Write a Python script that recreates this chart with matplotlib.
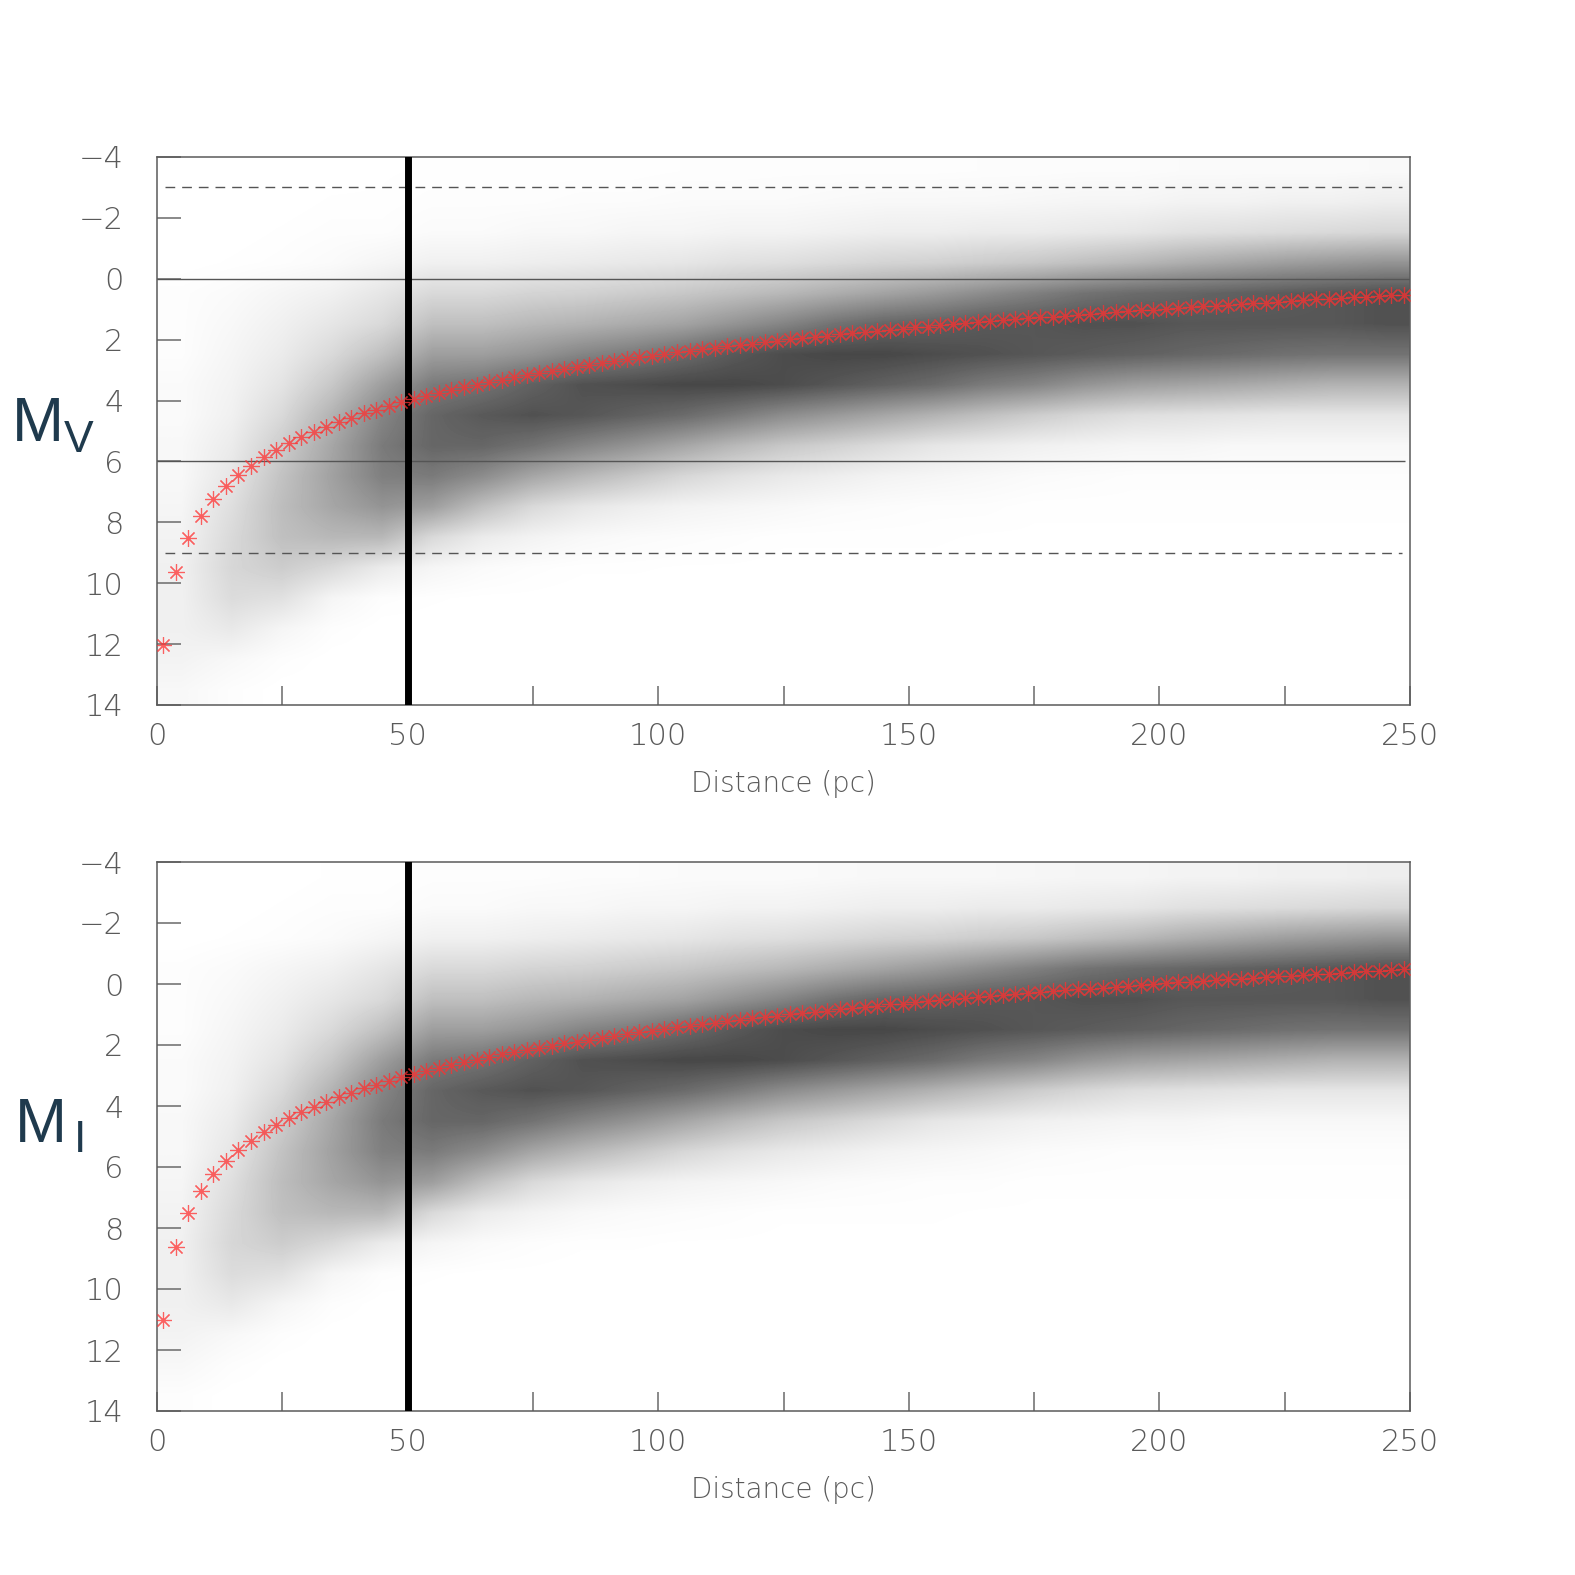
import numpy as np
import matplotlib
matplotlib.use("Agg")
import matplotlib.pyplot as plt
from matplotlib.ticker import MultipleLocator
from matplotlib.colors import LinearSegmentedColormap

# ---------------- data ----------------
# distance bins (pc) and magnitude bins used for the star-density maps
dist_edges = [0, 10, 20, 30, 40, 50, 60, 70, 80, 90, 100, 110, 120, 130, 140, 150,
              160, 170, 180, 190, 200, 210, 220, 230, 240, 250]
mag_edges = [-4, -3, -2, -1, 0, 1, 2, 3, 4, 5, 6, 7, 8, 9, 10, 11, 12, 13, 14]

# relative darkness of the star cloud (rows: magnitude bins from -4 downwards,
# columns: distance bins) -- upper panel, M_V
mv_density = [
    [0, 0, 0, 0, .003, .005, .005, .005, .005, .005, .008, .008, .01, .01, .01, .01, .012, .012, .015, .015, .02, .02, .02, .02, .025],
    [0, 0, 0, .005, .005, .01, .01, .01, .015, .015, .02, .02, .02, .025, .03, .03, .03, .035, .04, .04, .05, .05, .06, .06, .07],
    [0, 0, .005, .01, .01, .02, .02, .03, .03, .04, .04, .05, .05, .06, .07, .07, .08, .08, .09, .10, .12, .13, .14, .15, .16],
    [0, .005, .01, .02, .04, .06, .06, .07, .08, .09, .10, .12, .13, .15, .17, .18, .20, .22, .25, .28, .32, .35, .38, .40, .42],
    [.01, .02, .04, .06, .10, .15, .15, .17, .18, .20, .22, .25, .28, .32, .36, .40, .45, .50, .55, .58, .60, .62, .64, .66, .68],
    [.01, .03, .06, .10, .15, .25, .25, .28, .30, .33, .36, .42, .48, .55, .60, .62, .65, .66, .68, .68, .66, .66, .66, .66, .68],
    [.01, .04, .08, .15, .25, .38, .38, .42, .48, .52, .58, .65, .70, .72, .72, .70, .68, .66, .64, .62, .60, .58, .56, .55, .55],
    [.02, .05, .11, .22, .38, .52, .55, .62, .68, .70, .72, .72, .70, .66, .62, .58, .52, .48, .42, .38, .36, .34, .32, .30, .30],
    [.02, .06, .15, .30, .48, .60, .65, .68, .66, .62, .58, .52, .45, .40, .35, .30, .25, .20, .16, .13, .12, .11, .10, .10, .10],
    [.03, .08, .20, .35, .52, .60, .60, .55, .48, .42, .35, .28, .22, .18, .14, .10, .08, .06, .05, .04, .04, .03, .03, .03, .03],
    [.03, .10, .24, .37, .50, .52, .45, .35, .28, .22, .16, .12, .09, .07, .05, .04, .03, .02, .015, .01, .01, .01, .01, .01, .01],
    [.04, .13, .26, .35, .42, .38, .25, .15, .10, .07, .05, .04, .03, .02, .015, .01, .01, .005, .005, .005, .005, .005, .005, .005, .005],
    [.05, .15, .25, .28, .28, .15, .08, .05, .03, .02, .015, .01, .005, .005, .005, .005, .003, .003, .003, .003, .003, .003, .003, .003, .003],
    [.06, .16, .20, .15, .08, .04, .02, .01, .005, .005, .003, .003, .002, .002, .002, .002, 0, 0, 0, 0, 0, 0, 0, 0, 0],
    [.06, .14, .12, .04, .01, .005, .002, .002, 0, 0, 0, 0, 0, 0, 0, 0, 0, 0, 0, 0, 0, 0, 0, 0, 0],
    [.06, .09, .04, .01, 0, 0, 0, 0, 0, 0, 0, 0, 0, 0, 0, 0, 0, 0, 0, 0, 0, 0, 0, 0, 0],
    [.05, .03, .01, 0, 0, 0, 0, 0, 0, 0, 0, 0, 0, 0, 0, 0, 0, 0, 0, 0, 0, 0, 0, 0, 0],
    [.03, .01, 0, 0, 0, 0, 0, 0, 0, 0, 0, 0, 0, 0, 0, 0, 0, 0, 0, 0, 0, 0, 0, 0, 0],
]

# lower panel, M_I
mi_density = [
    [0, 0, 0, .005, .005, .01, .01, .01, .015, .015, .02, .02, .02, .025, .03, .03, .03, .035, .04, .04, .05, .05, .06, .06, .07],
    [0, 0, .005, .01, .01, .02, .02, .03, .03, .04, .04, .05, .05, .06, .07, .07, .08, .08, .09, .10, .12, .13, .14, .15, .16],
    [0, .005, .01, .02, .04, .06, .06, .07, .08, .09, .10, .12, .13, .15, .17, .18, .20, .22, .25, .28, .32, .35, .38, .40, .42],
    [.01, .02, .04, .06, .10, .15, .15, .17, .18, .20, .22, .25, .28, .32, .36, .40, .45, .50, .55, .58, .60, .62, .64, .66, .68],
    [.01, .03, .06, .10, .15, .25, .25, .28, .30, .33, .36, .42, .48, .55, .60, .62, .65, .66, .68, .68, .66, .66, .66, .66, .68],
    [.01, .04, .08, .15, .25, .38, .38, .42, .48, .52, .58, .65, .70, .72, .72, .70, .68, .66, .64, .62, .60, .58, .56, .55, .55],
    [.02, .05, .11, .22, .38, .52, .55, .62, .68, .70, .72, .72, .70, .66, .62, .58, .52, .48, .42, .38, .36, .34, .32, .30, .30],
    [.02, .06, .15, .30, .48, .60, .65, .68, .66, .62, .58, .52, .45, .40, .35, .30, .25, .20, .16, .13, .12, .11, .10, .10, .10],
    [.03, .08, .20, .35, .52, .60, .60, .55, .48, .42, .35, .28, .22, .18, .14, .10, .08, .06, .05, .04, .04, .03, .03, .03, .03],
    [.03, .10, .24, .37, .50, .52, .45, .35, .28, .22, .16, .12, .09, .07, .05, .04, .03, .02, .015, .01, .01, .01, .01, .01, .01],
    [.04, .13, .26, .35, .42, .38, .25, .15, .10, .07, .05, .04, .03, .02, .015, .01, .01, .005, .005, .005, .005, .005, .005, .005, .005],
    [.05, .15, .25, .28, .28, .15, .08, .05, .03, .02, .015, .01, .005, .005, .005, .005, .003, .003, .003, .003, .003, .003, .003, .003, .003],
    [.06, .16, .20, .15, .08, .04, .02, .01, .005, .005, .003, .003, .002, .002, .002, .002, 0, 0, 0, 0, 0, 0, 0, 0, 0],
    [.06, .14, .12, .04, .01, .005, .002, .002, 0, 0, 0, 0, 0, 0, 0, 0, 0, 0, 0, 0, 0, 0, 0, 0, 0],
    [.06, .09, .04, .01, 0, 0, 0, 0, 0, 0, 0, 0, 0, 0, 0, 0, 0, 0, 0, 0, 0, 0, 0, 0, 0],
    [.05, .03, .01, 0, 0, 0, 0, 0, 0, 0, 0, 0, 0, 0, 0, 0, 0, 0, 0, 0, 0, 0, 0, 0, 0],
    [.03, .01, 0, 0, 0, 0, 0, 0, 0, 0, 0, 0, 0, 0, 0, 0, 0, 0, 0, 0, 0, 0, 0, 0, 0],
    [.01, 0, 0, 0, 0, 0, 0, 0, 0, 0, 0, 0, 0, 0, 0, 0, 0, 0, 0, 0, 0, 0, 0, 0, 0],
]

# red asterisks: limiting absolute magnitude per 2.5 pc distance step
star_distance = [1.25, 3.75, 6.25, 8.75, 11.25, 13.75, 16.25, 18.75, 21.25, 23.75,
                 26.25, 28.75, 31.25, 33.75, 36.25, 38.75, 41.25, 43.75, 46.25, 48.75,
                 51.25, 53.75, 56.25, 58.75, 61.25, 63.75, 66.25, 68.75, 71.25, 73.75,
                 76.25, 78.75, 81.25, 83.75, 86.25, 88.75, 91.25, 93.75, 96.25, 98.75,
                 101.25, 103.75, 106.25, 108.75, 111.25, 113.75, 116.25, 118.75, 121.25, 123.75,
                 126.25, 128.75, 131.25, 133.75, 136.25, 138.75, 141.25, 143.75, 146.25, 148.75,
                 151.25, 153.75, 156.25, 158.75, 161.25, 163.75, 166.25, 168.75, 171.25, 173.75,
                 176.25, 178.75, 181.25, 183.75, 186.25, 188.75, 191.25, 193.75, 196.25, 198.75,
                 201.25, 203.75, 206.25, 208.75, 211.25, 213.75, 216.25, 218.75, 221.25, 223.75,
                 226.25, 228.75, 231.25, 233.75, 236.25, 238.75, 241.25, 243.75, 246.25, 248.75]

mv_limit = [12.02, 9.63, 8.52, 7.79, 7.24, 6.81, 6.45, 6.14, 5.86, 5.62,
            5.40, 5.21, 5.03, 4.86, 4.70, 4.56, 4.42, 4.30, 4.17, 4.06,
            3.95, 3.85, 3.75, 3.66, 3.56, 3.48, 3.39, 3.31, 3.24, 3.16,
            3.09, 3.02, 2.95, 2.89, 2.82, 2.76, 2.70, 2.64, 2.58, 2.53,
            2.47, 2.42, 2.37, 2.32, 2.27, 2.22, 2.17, 2.13, 2.08, 2.04,
            1.99, 1.95, 1.91, 1.87, 1.83, 1.79, 1.75, 1.71, 1.67, 1.64,
            1.60, 1.57, 1.53, 1.50, 1.46, 1.43, 1.40, 1.36, 1.33, 1.30,
            1.27, 1.24, 1.21, 1.18, 1.15, 1.12, 1.09, 1.06, 1.04, 1.01,
            0.98, 0.95, 0.93, 0.90, 0.88, 0.85, 0.83, 0.80, 0.78, 0.75,
            0.73, 0.70, 0.68, 0.66, 0.63, 0.61, 0.59, 0.57, 0.54, 0.52]

mi_limit = [11.02, 8.63, 7.52, 6.79, 6.24, 5.81, 5.45, 5.14, 4.86, 4.62,
            4.40, 4.21, 4.03, 3.86, 3.70, 3.56, 3.42, 3.30, 3.17, 3.06,
            2.95, 2.85, 2.75, 2.66, 2.56, 2.48, 2.39, 2.31, 2.24, 2.16,
            2.09, 2.02, 1.95, 1.89, 1.82, 1.76, 1.70, 1.64, 1.58, 1.53,
            1.47, 1.42, 1.37, 1.32, 1.27, 1.22, 1.17, 1.13, 1.08, 1.04,
            0.99, 0.95, 0.91, 0.87, 0.83, 0.79, 0.75, 0.71, 0.67, 0.64,
            0.60, 0.57, 0.53, 0.50, 0.46, 0.43, 0.40, 0.36, 0.33, 0.30,
            0.27, 0.24, 0.21, 0.18, 0.15, 0.12, 0.09, 0.06, 0.04, 0.01,
            -0.02, -0.05, -0.07, -0.10, -0.12, -0.15, -0.17, -0.20, -0.22, -0.25,
            -0.27, -0.30, -0.32, -0.34, -0.37, -0.39, -0.41, -0.43, -0.46, -0.48]

# reference lines (upper panel only)
mv_solid_lines = [0, 6]
mv_dashed_lines = [-3, 9]
distance_cut = 50

y_ticks = [-4, -2, 0, 2, 4, 6, 8, 10, 12, 14]

# ---------------- style ----------------
plt.rcParams["font.family"] = ["DejaVu Sans"]
GRAY = "#5a5a5a"
TICKC = "#6a6a6a"
NAVY = "#1f3a4d"
cloud_cmap = LinearSegmentedColormap.from_list("cloud", ["#ffffff", "#000000"])

W = 1575.0
fig = plt.figure(figsize=(15.75, 15.75), dpi=100)
L, R = 157 / W, 1410 / W
ax1 = fig.add_axes([L, 1 - 705 / W, R - L, (705 - 157) / W])
ax2 = fig.add_axes([L, 1 - 1411 / W, R - L, (1411 - 862) / W])


def draw_panel(ax, density, limit):
    ax.imshow(np.array(density, dtype=float), cmap=cloud_cmap, vmin=0, vmax=1,
              extent=(dist_edges[0], dist_edges[-1], mag_edges[-1], mag_edges[0]),
              origin="upper", aspect="auto", interpolation="bilinear", zorder=1)
    ax.axvline(distance_cut, color="black", lw=5.0, zorder=4)
    ax.plot(star_distance, limit, linestyle="none", marker=(8, 2, 0), ms=12,
            mew=0.85, color="#ff3030", alpha=0.75, zorder=5)
    ax.set_xlim(dist_edges[0], dist_edges[-1])
    ax.set_ylim(mag_edges[-1], mag_edges[0])
    ax.xaxis.set_major_locator(MultipleLocator(50))
    ax.xaxis.set_minor_locator(MultipleLocator(25))
    ax.set_yticks(y_ticks)
    ax.tick_params(axis="x", which="both", direction="in", length=14, width=1.1,
                   color=TICKC, top=False, pad=12, labelsize=22, labelcolor=GRAY)
    ax.tick_params(axis="y", which="both", direction="in", length=17, width=1.1,
                   color=TICKC, right=False, pad=24, labelsize=22, labelcolor=GRAY)
    for lab in ax.get_xticklabels() + ax.get_yticklabels():
        lab.set_fontweight(200)
    for sp in ax.spines.values():
        sp.set_color(GRAY)
        sp.set_linewidth(1.1)
    ax.set_xlabel("Distance (pc)", fontsize=20, color=GRAY, labelpad=14, fontweight=200)


draw_panel(ax1, mv_density, mv_limit)
draw_panel(ax2, mi_density, mi_limit)

ax1.hlines(mv_solid_lines[0], 0, 250, colors="#555555", lw=1.0, zorder=3)
ax1.hlines(mv_solid_lines[1], 0, 249, colors="#555555", lw=1.0, zorder=3)
ax1.hlines(mv_dashed_lines, 1.5, 248.5, colors="#555555", lw=1.0,
           linestyles=(0, (7, 5)), zorder=3)

# axis symbols
fig.text(12 / W, 1 - 441 / W, "M", fontsize=45, color=NAVY, family="Liberation Sans",
         ha="left", va="baseline")
fig.text(64 / W, 1 - 452 / W, "V", fontsize=32, color=NAVY, family="Liberation Sans",
         ha="left", va="baseline")
fig.text(15 / W, 1 - 1142 / W, "M", fontsize=45, color=NAVY, family="Liberation Sans",
         ha="left", va="baseline")
fig.text(74 / W, 1 - 1152 / W, "I", fontsize=32, color=NAVY, family="Liberation Sans",
         ha="left", va="baseline")

fig.savefig("out.png", dpi=100)
